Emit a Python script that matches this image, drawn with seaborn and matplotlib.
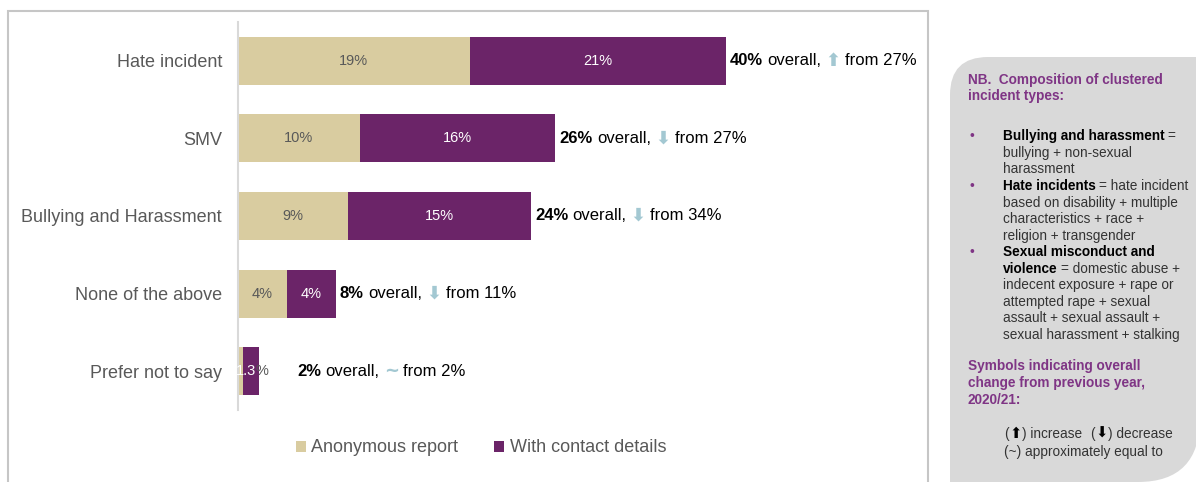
import matplotlib
matplotlib.use("Agg")
import matplotlib.pyplot as plt
import seaborn as sns
from matplotlib.patches import Rectangle, PathPatch
from matplotlib.path import Path
from matplotlib.text import Annotation

# ---- data ----
categories = ["Hate incident", "SMV", "Bullying and Harassment",
              "None of the above", "Prefer not to say"]
anonymous = [19, 10, 9, 4, 0.4]
with_contact = [21, 16, 15, 4, 1.3]
overall = [40, 26, 24, 8, 2]
previous = [27, 27, 34, 11, 2]
trend = ["up", "down", "down", "down", "same"]

series_names = ["Anonymous report", "With contact details"]

# ---- style ----
TAN = "#d9cca0"
PURPLE = "#6b2468"
ARROW = "#a3c8d2"
GREY_TXT = "#595959"
NOTE_PURPLE = "#7f3585"
PANEL = "#d9d9d9"
BODY = "#333333"

sns.set_theme(style="white")
plt.rcParams["font.family"] = ["Liberation Sans", "DejaVu Sans"]

W, H = 1196, 482
fig = plt.figure(figsize=(W / 100, H / 100), dpi=100)


def fx(x):
    return x / W


def fy(y):
    return 1 - y / H


# chart frame
fig.add_artist(Rectangle((fx(8), fy(495)), fx(928) - fx(8), fy(11) - fy(495),
                         transform=fig.transFigure, fill=False,
                         edgecolor="#c6c6c6", linewidth=1.5))

# note panel with rounded corners
r = 38
verts = [(950, 490), (950, 57 + r), (950, 57), (950 + r, 57), (1200, 57),
         (1200, 418), (1200, 482), (1138, 482), (950, 490), (950, 490)]
codes = [Path.MOVETO, Path.LINETO, Path.CURVE3, Path.CURVE3, Path.LINETO,
         Path.LINETO, Path.CURVE3, Path.CURVE3, Path.LINETO, Path.CLOSEPOLY]
path = Path([(fx(x), fy(y)) for x, y in verts], codes)
fig.add_artist(PathPatch(path, transform=fig.transFigure,
                         facecolor=PANEL, edgecolor="none", zorder=1))

# ---- bars ----
ax = fig.add_axes([fx(238), fy(410), fx(921) - fx(238), fy(22) - fy(410)])
totals = [a + c for a, c in zip(anonymous, with_contact)]

sns.barplot(x=totals, y=categories, orient="h", color=PURPLE, saturation=1,
            width=0.62, label=series_names[1], ax=ax, linewidth=0)
sns.barplot(x=anonymous, y=categories, orient="h", color=TAN, saturation=1,
            width=0.62, label=series_names[0], ax=ax, linewidth=0)

ax.set_xlim(0, 56)
ax.set_ylim(4.5, -0.5)
ax.set_xlabel("")
ax.set_ylabel("")
ax.set_xticks([])
ax.tick_params(axis="y", length=0, pad=11.5, labelsize=13, labelcolor=GREY_TXT)
for s in ["top", "right", "bottom"]:
    ax.spines[s].set_visible(False)
ax.spines["left"].set_color("#d9d9d9")
ax.spines["left"].set_linewidth(1.5)
if ax.get_legend() is not None:
    ax.get_legend().remove()

# segment value labels
for i, (a, c) in enumerate(zip(anonymous, with_contact)):
    segs = [(0, a, GREY_TXT), (a, c, "white")]
    for left, val, col in segs:
        if val < 1:
            continue
        cx = left + val / 2
        txt = f"{val:g}"
        if val >= 3:
            ax.text(cx, i, txt + "%", ha="center", va="center",
                    color=col, fontsize=10.5)
        else:
            num = ax.annotate(txt, (cx, i), xytext=(3.6, 0),
                              textcoords="offset points", ha="right",
                              va="center", color=col, fontsize=10.5)
            ax.annotate("%", xy=(1, 0.5), xycoords=num, ha="left",
                        va="center", color=GREY_TXT, fontsize=10.5)

# overall labels with change symbols
symbols = {"up": "⬆", "down": "⬇", "same": "~"}
for i, tot in enumerate(totals):
    x0 = max(tot, 4.5)
    t1 = ax.annotate(f"{overall[i]}%", (x0, i), xytext=(3, 0),
                     textcoords="offset points", ha="left", va="center",
                     fontsize=12, fontweight="bold", color="black")
    t2 = ax.annotate("overall,", xy=(1, 0.5), xycoords=t1, xytext=(3.2, 0),
                     textcoords="offset points", ha="left", va="center",
                     fontsize=12, color="black")
    sym = symbols[trend[i]]
    t3 = ax.annotate(sym, xy=(1, 0.5), xycoords=t2,
                     xytext=(3.0, 0), textcoords="offset points",
                     ha="left", va="center",
                     fontsize=13, fontweight="bold",
                     color=ARROW, family=["DejaVu Sans"])
    ax.annotate(f"from {previous[i]}%", xy=(1, 0.5), xycoords=t3,
                xytext=(3.2, 0), textcoords="offset points",
                ha="left", va="center", fontsize=12, color="black")

# legend
handles, labels = ax.get_legend_handles_labels()
order = [labels.index(n) for n in series_names]
leg = fig.legend([handles[k] for k in order], [labels[k] for k in order],
                 loc="center", bbox_to_anchor=(fx(481), fy(448)), ncol=2,
                 frameon=False, fontsize=13, handlelength=0.55,
                 handleheight=0.55, handletextpad=0.3, columnspacing=2.0,
                 borderaxespad=0)
for t in leg.get_texts():
    t.set_color(GREY_TXT)

# ---- note panel text ----
NOTE_SIZE = 9.8


def note(x, y, s, **kw):
    kw.setdefault("fontsize", NOTE_SIZE)
    kw.setdefault("color", BODY)
    return fig.text(fx(x), fy(y), s, ha="left", va="baseline", zorder=3, **kw)


def after(prev, s, gap=0.0, **kw):
    kw.setdefault("fontsize", NOTE_SIZE)
    kw.setdefault("color", BODY)
    a = Annotation(s, xy=(1, 0), xycoords=prev, xytext=(gap, 0),
                   textcoords="offset points", ha="left", va="bottom",
                   annotation_clip=False, **kw)
    a.set_zorder(3)
    fig.add_artist(a)
    return a


note(968, 84, "NB.  Composition of clustered", fontweight="bold",
     color=NOTE_PURPLE)
note(968, 100, "incident types:", fontweight="bold", color=NOTE_PURPLE)

bullets = [
    (140, [("Bullying and harassment", "="), ("", "bullying + non-sexual"),
           ("", "harassment")]),
    (190, [("Hate incidents", "= hate incident"),
           ("", "based on disability + multiple"),
           ("", "characteristics + race +"), ("", "religion + transgender")]),
    (256, [("Sexual misconduct and", ""),
           ("violence", "= domestic abuse +"),
           ("", "indecent exposure + rape or"),
           ("", "attempted rape + sexual"),
           ("", "assault + sexual assault +"),
           ("", "sexual harassment + stalking")]),
]
LINE = 16.6
for y0, lines in bullets:
    note(970, y0, "•", color=NOTE_PURPLE)
    for k, (b, rest) in enumerate(lines):
        y = y0 + k * LINE
        if b:
            tb = note(1003, y, b, fontweight="bold", color="black")
            if rest:
                after(tb, rest, gap=2.2)
        else:
            note(1003, y, rest)

note(968, 370, "Symbols indicating overall", fontweight="bold",
     color=NOTE_PURPLE)
note(968, 387, "change from previous year,", fontweight="bold",
     color=NOTE_PURPLE)
note(968, 404, "2020/21:", fontweight="bold", color=NOTE_PURPLE)

p = note(1004, 438, "(")
p = after(p, "⬆", gap=0.3, color="black", family=["DejaVu Sans"], fontsize=10.5)
p = after(p, ") increase", gap=0.3)
p = after(p, "(", gap=6)
p = after(p, "⬇", gap=0.3, color="black", family=["DejaVu Sans"], fontsize=10.5)
p = after(p, ") decrease", gap=0.3)
note(1004, 456, "(~) approximately equal to")

fig.savefig("out.png", dpi=100)
